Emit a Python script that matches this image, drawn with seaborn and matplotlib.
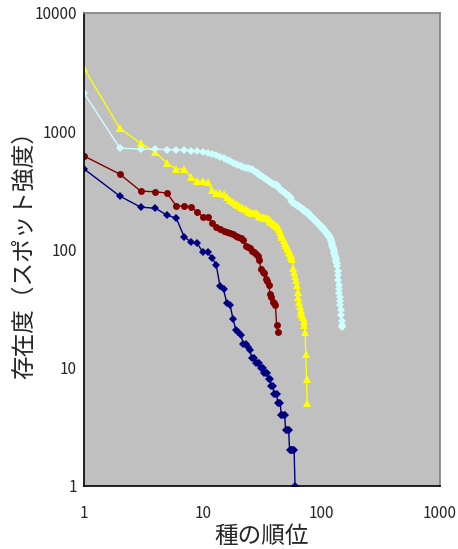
import numpy as np
import pandas as pd
import matplotlib
matplotlib.use("Agg")
import matplotlib.pyplot as plt
import seaborn as sns

# abundance values per rank
navy_vals = [480, 283, 228, 223, 195, 184, 127, 116, 113, 95,
             95, 85, 74, 49, 46, 35, 34, 26, 21, 20,
             19, 16, 16, 15, 14, 12, 12, 11, 11, 11,
             10, 10, 9, 9, 9, 8, 8, 7, 7, 6,
             6, 6, 5, 5, 5, 4, 4, 4, 4, 3,
             3, 3, 3, 2, 2, 2, 2, 2, 2, 1]
red_vals = [617, 434, 312, 307, 300, 233, 233, 230, 207, 190,
            187, 167, 155, 150, 143, 140, 137, 135, 130, 127,
            124, 121, 108, 104, 102, 98, 95, 91, 88, 81,
            68, 65, 63, 56, 54, 50, 42, 40, 36, 35,
            34, 23, 20]
yellow_vals = [3400, 1060, 790, 665, 537, 478, 478, 409, 379, 379,
               371, 318, 300, 298, 295, 280, 262, 251, 244, 237,
               230, 223, 218, 212, 207, 205, 204, 203, 198, 193,
               188, 187, 186, 185, 184, 180, 175, 170, 167, 164,
               160, 157, 155, 148, 140, 133, 127, 120, 114, 109,
               105, 100, 95, 93, 90, 86, 83, 70, 65, 60,
               55, 50, 44, 40, 36, 33, 31, 29, 28, 27,
               25, 23, 20, 13, 8, 5]
cyan_vals = [2100, 720, 706, 705, 700, 698, 690, 685, 680, 670,
             660, 640, 625, 610, 593, 575, 555, 535, 525, 515,
             505, 495, 490, 485, 480, 478, 465, 452, 443, 430,
             420, 410, 400, 392, 386, 378, 370, 365, 360, 356,
             352, 350, 340, 332, 324, 318, 312, 306, 300, 296,
             291, 287, 282, 278, 270, 261, 252, 249, 246, 243,
             240, 238, 235, 233, 231, 229, 226, 224, 221, 218,
             216, 213, 211, 208, 206, 204, 203, 200, 198, 195,
             193, 191, 188, 186, 184, 182, 180, 178, 176, 174,
             172, 171, 169, 167, 165, 163, 161, 159, 157, 156,
             154, 153, 152, 150, 148, 146, 144, 142, 140, 139,
             137, 136, 134, 133, 131, 130, 128, 127, 124, 120,
             117, 114, 111, 108, 105, 102, 99, 96, 93, 90,
             87, 84, 81, 79, 77, 72, 66, 61, 55, 50,
             46, 43, 40, 37, 34, 31, 28, 25, 23, 22]

x_ticks = [1, 10, 100, 1000]
y_ticks = [1, 10, 100, 1000, 10000]

sns.set_style("white")
plt.rcParams['font.family'] = ['Noto Sans CJK JP', 'DejaVu Sans']

fig = plt.figure(figsize=(4.58, 5.49), dpi=100)
ax = fig.add_axes([0.1834, 0.1148, 0.7773, 0.8616])
ax.set_facecolor('#C0C0C0')

series = [
    (navy_vals, '#000080', 'D', 4.2),
    (red_vals, '#800000', 'o', 5),
    (yellow_vals, '#FFFF00', '^', 6),
    (cyan_vals, '#CCFFFF', 'D', 4.2),
]
for vals, col, mk, ms in series:
    rank = np.arange(1, len(vals) + 1)
    sns.lineplot(x=rank, y=vals, ax=ax, color=col, marker=mk, markersize=ms,
                 markeredgewidth=0, linewidth=1, estimator=None, sort=False)

ax.set_xscale('log')
ax.set_yscale('log')
ax.set_xlim(1, 1000)
ax.set_ylim(1, 10000)
ax.set_xticks(x_ticks)
ax.set_xticklabels([str(t) for t in x_ticks])
ax.set_yticks(y_ticks)
ax.set_yticklabels([str(t) for t in y_ticks])
ax.minorticks_off()
ax.tick_params(axis='x', direction='in', length=5, width=1, color='#606060',
               pad=14, labelsize=11)
ax.tick_params(axis='y', direction='in', length=5, width=1, color='#303030',
               pad=5, labelsize=11)

for s in ['left', 'bottom']:
    ax.spines[s].set_color('black')
    ax.spines[s].set_linewidth(1.2)
for s in ['top', 'right']:
    ax.spines[s].set_color('#808080')
    ax.spines[s].set_linewidth(1.2)

ax.set_xlabel('種の順位', fontsize=17, labelpad=2)
ax.set_ylabel('存在度（スポット強度）', fontsize=17)
ax.yaxis.set_label_coords(-0.135, 0.5)

fig.savefig('out.png', dpi=100)
